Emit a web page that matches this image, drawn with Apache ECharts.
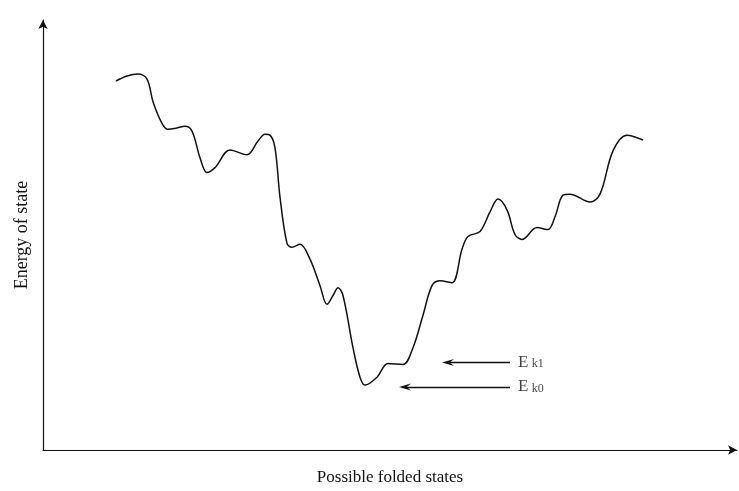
<!DOCTYPE html>
<html>
<head>
<meta charset="utf-8">
<script src="https://cdn.jsdelivr.net/npm/echarts@6/dist/echarts.min.js"></script>
<style>
  html, body { margin: 0; padding: 0; background: #fff; width: 100%; height: 100%; overflow: hidden; }
  #chart { width: 100vw; height: 100vh; }
</style>
</head>
<body>
<div id="chart"></div>
<script>
// energy landscape (state index, energy)
var stateX = [73, 84, 95, 104, 110, 119, 125, 133, 142, 149, 157, 164, 172, 187, 204, 215, 222, 227, 232, 237, 244, 249, 257, 267, 277, 284, 290, 295, 300, 310, 317, 322, 334, 345, 360, 370, 380, 389, 397, 409, 419, 425, 437, 447, 455, 464, 472, 479, 494, 505, 512, 520, 527, 547, 557, 570, 584, 600];
var energy = [375, 380, 382, 377, 354, 332, 326, 327, 329, 324, 297, 282, 287, 305, 300, 314, 321, 320, 307, 257, 210, 206, 209, 194, 167, 148, 157, 165, 157, 104, 74, 66, 74, 88, 87, 104, 137, 167, 172, 170, 204, 217, 222, 242, 255, 244, 219, 214, 226, 224, 237, 259, 260, 252, 260, 304, 320, 315];

// the two reference levels and their arrows
var levelNames = ['k1', 'k0'];
var levelEnergy = [89, 64];
var arrowFrom = [467, 467];
var arrowTo = [405, 362];
var labelX = [475, 475];

var chart = echarts.init(document.getElementById('chart'));

var curve = stateX.map(function (x, i) { return [x, energy[i]]; });
var arrows = levelEnergy.map(function (e, i) {
  return [{ coord: [arrowFrom[i], e] }, { coord: [arrowTo[i], e] }];
});
var labels = levelEnergy.map(function (e, i) { return [labelX[i], e, levelNames[i]]; });

var font = 'Liberation Serif, DejaVu Serif, serif';
// open barbed head, tip pointing up (markLine turns it along the line)
var arrowHead = 'path://M5,0 L10,14 L5,9 L0,14 Z';

chart.setOption({
  animation: false,
  backgroundColor: '#fff',
  grid: { left: 43, right: 2, top: 20, bottom: 34 },
  xAxis: {
    type: 'value', min: 0, max: 694,
    name: 'Possible folded states',
    nameLocation: 'middle', nameGap: 19,
    nameTextStyle: { fontFamily: font, fontSize: 17, color: '#111' },
    axisLine: { show: true, symbol: ['none', 'arrow'], symbolSize: [7, 9], lineStyle: { color: '#111', width: 1.2 } },
    axisTick: { show: false }, axisLabel: { show: false }, splitLine: { show: false }
  },
  yAxis: {
    type: 'value', min: 0, max: 437,
    name: 'Energy of state',
    nameLocation: 'middle', nameGap: 12,
    nameTextStyle: { fontFamily: font, fontSize: 18, color: '#111' },
    axisLine: { show: true, symbol: ['none', 'arrow'], symbolSize: [7, 9], lineStyle: { color: '#111', width: 1.2 } },
    axisTick: { show: false }, axisLabel: { show: false }, splitLine: { show: false }
  },
  series: [
    {
      type: 'line',
      data: curve,
      smooth: 0.35,
      showSymbol: false,
      lineStyle: { color: '#111', width: 1.5 },
      markLine: {
        silent: true,
        symbol: ['none', arrowHead],
        symbolSize: [7, 12],
        label: { show: false },
        lineStyle: { color: '#111', width: 1.3, type: 'solid' },
        data: arrows
      }
    },
    {
      type: 'scatter',
      data: labels,
      symbolSize: 0,
      label: {
        show: true, position: 'right', distance: 0,
        formatter: function (p) { return '{e|E} {k|' + p.value[2] + '}'; },
        rich: {
          e: { fontFamily: font, fontSize: 17, color: '#111' },
          k: { fontFamily: font, fontSize: 12, color: '#111', padding: [3, 0, 0, 0] }
        }
      }
    }
  ]
});
</script>
</body>
</html>
